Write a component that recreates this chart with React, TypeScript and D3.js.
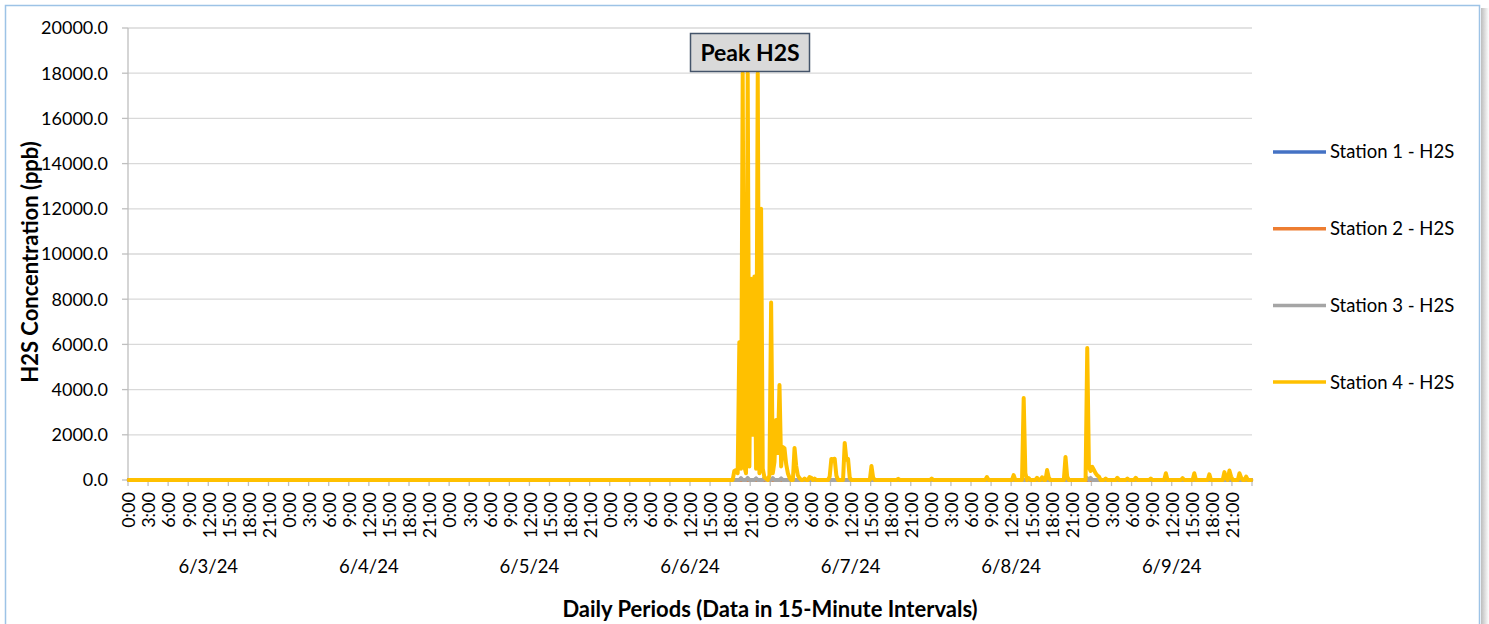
import * as d3 from 'd3';
import React from 'react';

const W = 1489;
const H = 624;
const plot = { left: 128, right: 1252, top: 28, bottom: 480 };

// 7 days x 96 readings (15-minute intervals)
const dateLabels = ['6/3/24', '6/4/24', '6/5/24', '6/6/24', '6/7/24', '6/8/24', '6/9/24'];
const hourLabels = ['0:00', '3:00', '6:00', '9:00', '12:00', '15:00', '18:00', '21:00'];
const yTicks = [0, 2000, 4000, 6000, 8000, 10000, 12000, 14000, 16000, 18000, 20000];
const stationNames = ['Station 1 - H2S', 'Station 2 - H2S', 'Station 3 - H2S', 'Station 4 - H2S'];
const stationColors = ['#4472c4', '#ed7d31', '#a5a5a5', '#ffc000'];

// [reading index, ppb] - readings not listed are 0
const station1Readings: [number, number][] = [];
const station2Readings: [number, number][] = [];
const station3Readings: [number, number][] = [
  [366, 80], [370, 90], [375, 70], [380, 90], [385, 80], [390, 70], [573, 80], [575, 90],
];
const station4Readings: [number, number][] = [
  [362, 400], [363, 440], [364, 300], [365, 6100], [366, 500], [367, 18000], [368, 600],
  [369, 300], [370, 18000], [371, 600], [372, 8900], [373, 2000], [374, 9000], [375, 500],
  [376, 18000], [377, 300], [378, 12000], [379, 500], [380, 120], [381, 60], [383, 200],
  [384, 7850], [385, 300], [386, 800], [387, 2650], [388, 1200], [389, 4200], [390, 600],
  [391, 1460], [392, 1400], [393, 700], [394, 300], [395, 100], [398, 1420], [399, 620],
  [400, 200], [401, 80], [404, 60], [407, 130], [408, 100], [410, 60], [419, 150],
  [420, 930], [421, 920], [422, 940], [423, 200], [428, 1640], [429, 900], [430, 930],
  [431, 100], [444, 620], [445, 100], [460, 50], [480, 60], [513, 130], [529, 220],
  [535, 3630], [536, 300], [538, 80], [543, 100], [546, 120], [549, 440], [550, 100],
  [560, 1020], [561, 150], [573, 5840], [574, 580], [575, 400], [576, 580], [577, 440],
  [578, 300], [579, 200], [580, 150], [584, 60], [591, 100], [597, 60], [602, 100],
  [611, 60], [620, 300], [630, 80], [637, 300], [646, 250], [655, 350], [656, 100],
  [658, 420], [659, 150], [664, 300], [665, 100], [668, 150],
];

const N = dateLabels.length * 96;

function toSeries(readings: [number, number][]) {
  const s = new Array(N).fill(0);
  readings.forEach(([i, v]) => (s[i] = v));
  return s as number[];
}

const series = [station1Readings, station2Readings, station3Readings, station4Readings].map(toSeries);

const font = 'Lato, Carlito, Calibri, sans-serif';

export default function App() {
  const x = d3.scaleBand<number>().domain(d3.range(N)).range([plot.left, plot.right]);
  const y = d3.scaleLinear().domain([0, 20000]).range([plot.bottom, plot.top]);
  const bw = x.bandwidth();
  const line = d3
    .line<number>()
    .x((_, i) => (x(i) as number) + bw / 2)
    .y((d) => y(d));

  const tickIdx = d3.range(0, N + 1, 12);
  const tickX = (i: number) => (i >= N ? plot.right : (x(i) as number));

  return (
    <div style={{ position: 'fixed', left: 0, top: 0 }}>
      <svg width={W} height={H} style={{ display: 'block', background: '#fff' }}>
        <defs>
          <linearGradient id="shadow" x1="0" x2="1">
            <stop offset="0" stopColor="#bdbdbd" />
            <stop offset="1" stopColor="#ffffff" />
          </linearGradient>
        </defs>
        <rect x={1481} y={8} width={8} height={H} fill="url(#shadow)" />
        <rect x={5.5} y={5.5} width={1474} height={H + 20} fill="#fff" stroke="#9dc3e6" strokeWidth={1.5} />

        {/* gridlines */}
        {yTicks.map((t) => (
          <line key={t} x1={plot.left} x2={plot.right} y1={y(t)} y2={y(t)} stroke="#d9d9d9" strokeWidth={1.3} />
        ))}
        {/* y axis */}
        <line x1={plot.left} x2={plot.left} y1={plot.top} y2={plot.bottom} stroke="#bfbfbf" strokeWidth={1.3} />
        {yTicks.map((t) => (
          <g key={'yt' + t}>
            <line x1={plot.left - 6} x2={plot.left} y1={y(t)} y2={y(t)} stroke="#bfbfbf" strokeWidth={1.3} />
            <text x={108} y={y(t)} dy="0.35em" textAnchor="end" fontFamily={font} fontSize={18} fill="#000">
              {d3.format('.1f')(t)}
            </text>
          </g>
        ))}
        <text
          transform={`translate(38,262) rotate(-90)`}
          textAnchor="middle"
          fontFamily={font}
          fontWeight="bold"
          fontSize={22}
        >
          H2S Concentration (ppb)
        </text>

        {/* x axis */}
        <line x1={plot.left} x2={plot.right} y1={plot.bottom} y2={plot.bottom} stroke="#bfbfbf" strokeWidth={1.3} />
        {tickIdx.map((i) => (
          <line key={'xt' + i} x1={tickX(i)} x2={tickX(i)} y1={plot.bottom} y2={plot.bottom + 6} stroke="#bfbfbf" strokeWidth={1.3} />
        ))}
        {tickIdx.slice(0, -1).map((i) => (
          <text
            key={'xl' + i}
            transform={`translate(${tickX(i) + 1},${plot.bottom + 12}) rotate(-90)`}
            textAnchor="end"
            dy="0.35em"
            fontFamily={font}
            fontSize={18}
          >
            {hourLabels[(i % 96) / 12]}
          </text>
        ))}
        {dateLabels.map((d, k) => (
          <text
            key={d}
            x={((x(k * 96) as number) + tickX((k + 1) * 96)) / 2}
            y={573}
            textAnchor="middle"
            fontFamily={font}
            fontSize={18.5}
          >
            {d}
          </text>
        ))}
        <text x={770} y={617} textAnchor="middle" fontFamily={font} fontWeight="bold" fontSize={22}>
          Daily Periods (Data in 15-Minute Intervals)
        </text>

        {/* series */}
        {series.map((s, k) => (
          <path
            key={stationNames[k]}
            d={line(s) || ''}
            fill="none"
            stroke={stationColors[k]}
            strokeWidth={4}
            strokeLinejoin="round"
            strokeLinecap="round"
          />
        ))}

        {/* peak label */}
        <rect x={690.5} y={33.5} width={119} height={38} fill="#d9d9d9" stroke="#44546a" strokeWidth={1.5} />
        <text x={750} y={53} dy="0.35em" textAnchor="middle" fontFamily={font} fontWeight="bold" fontSize={23}>
          Peak H2S
        </text>

        {/* legend */}
        {stationNames.map((n, k) => {
          const ly = 152 + k * 76.7;
          return (
            <g key={'lg' + n}>
              <line x1={1273} x2={1326} y1={ly} y2={ly} stroke={stationColors[k]} strokeWidth={3.5} />
              <text x={1330} y={ly} dy="0.35em" fontFamily={font} fontSize={18.5}>
                {n}
              </text>
            </g>
          );
        })}
      </svg>
    </div>
  );
}
